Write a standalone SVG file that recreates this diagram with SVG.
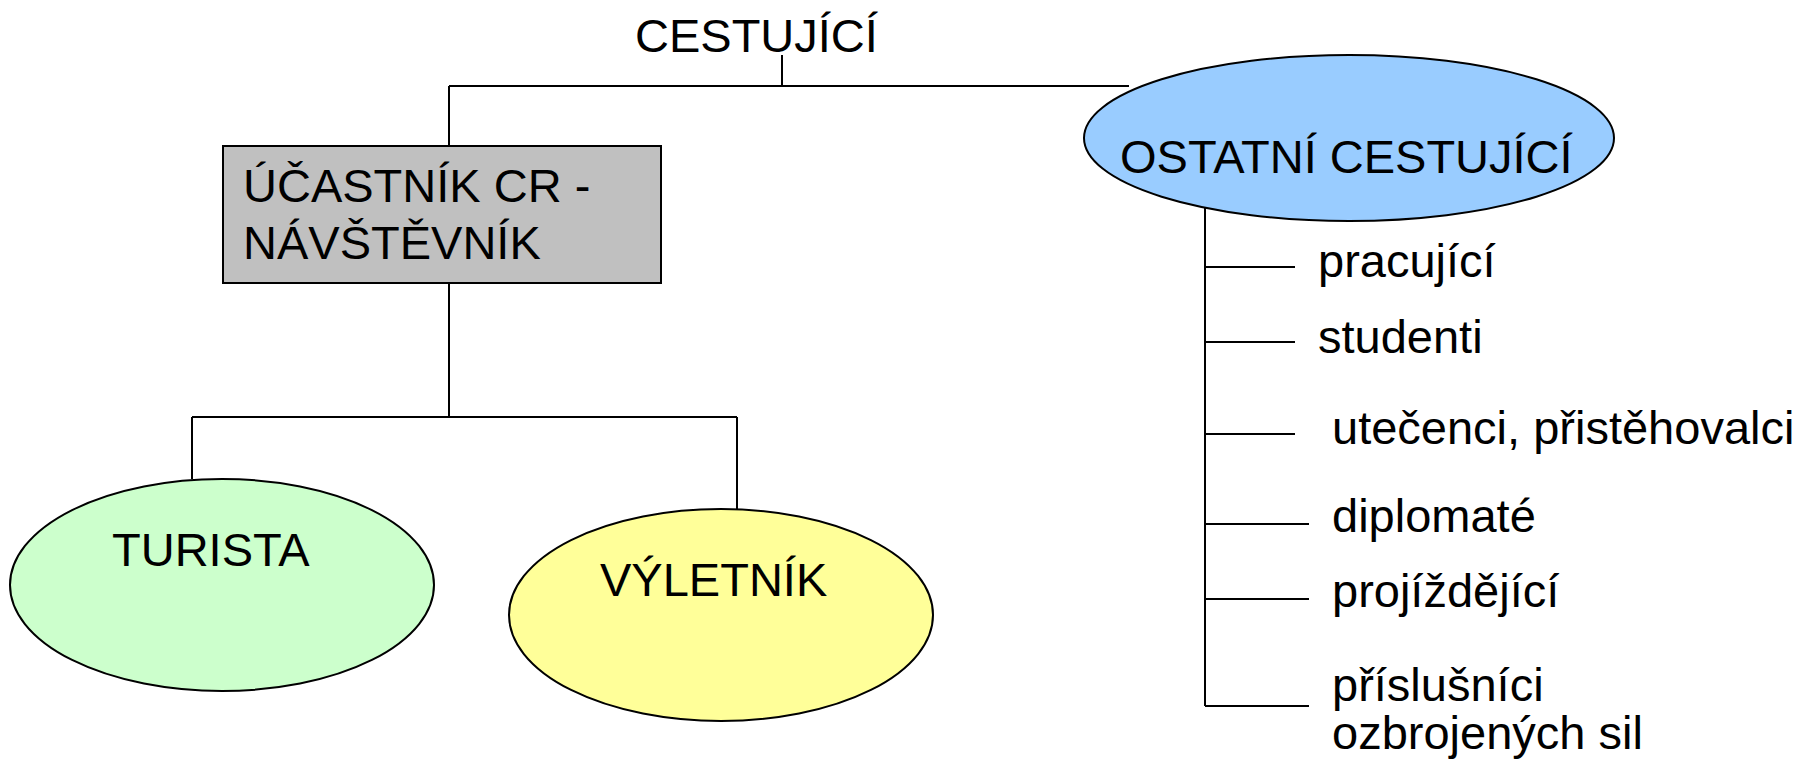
<svg xmlns="http://www.w3.org/2000/svg" width="1810" height="768" viewBox="0 0 1810 768">
<style>
text{font-family:"Liberation Sans",Arial,sans-serif;font-size:47px;fill:#000}
.ln{stroke:#000;stroke-width:2;fill:none}
.nd{stroke:#000;stroke-width:2}
</style>
<rect width="1810" height="768" fill="#fff"/>
<g id="connectors">
<path class="ln" d="M782,55 V86 M449,86 H1129 M449,86 V146"/>
<path class="ln" d="M449,283 V417 M192,417 H737 M192,417 V479 M737,417 V509"/>
<path class="ln" d="M1205,208 V706 M1205,267 H1295 M1205,342 H1295 M1205,434 H1295 M1205,524 H1309 M1205,599 H1309 M1205,706 H1309"/>
</g>
<g id="root"><text x="635" y="52">CESTUJÍCÍ</text></g>
<g id="ucastnik">
<rect class="nd" x="223" y="146" width="438" height="137" fill="#c0c0c0"/>
<text x="243" y="202">ÚČASTNÍK CR -</text>
<text x="243" y="259">NÁVŠTĚVNÍK</text>
</g>
<g id="ostatni">
<ellipse class="nd" cx="1349" cy="138" rx="265" ry="83" fill="#99ccff"/>
<text x="1120" y="173">OSTATNÍ CESTUJÍCÍ</text>
</g>
<g id="turista">
<ellipse class="nd" cx="222" cy="585" rx="212" ry="106" fill="#ccffcc"/>
<text x="112" y="566">TURISTA</text>
</g>
<g id="vyletnik">
<ellipse class="nd" cx="721" cy="615" rx="212" ry="106" fill="#ffff99"/>
<text x="600" y="596">VÝLETNÍK</text>
</g>
<g id="pracujici"><text x="1318" y="277">pracující</text></g>
<g id="studenti"><text x="1318" y="353">studenti</text></g>
<g id="utecenci"><text x="1332" y="444">utečenci, přistěhovalci</text></g>
<g id="diplomate"><text x="1332" y="532">diplomaté</text></g>
<g id="projizdejici"><text x="1332" y="607">projíždějící</text></g>
<g id="prislusnici"><text x="1332" y="701">příslušníci</text><text x="1332" y="749">ozbrojených sil</text></g>
</svg>
